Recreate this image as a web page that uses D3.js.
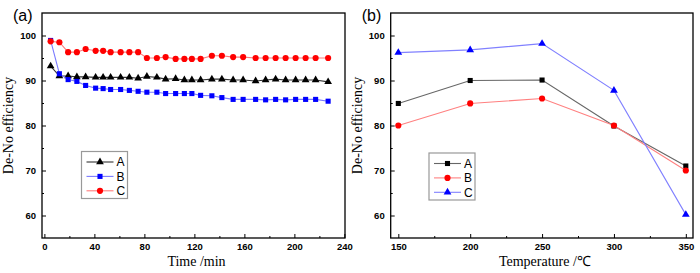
<!DOCTYPE html>
<html>
<head>
<meta charset="utf-8">
<script src="https://cdn.jsdelivr.net/npm/d3@7"></script>
<style>
  body { margin: 0; background: #fff; }
  svg { display: block; }
  .tick text { font-family: "Liberation Sans", Arial, sans-serif; font-weight: bold; font-size: 9.5px; fill: #000; }
  .axis path, .axis line { stroke: #000; }
  .title { font-family: "Liberation Serif", "Times New Roman", serif; font-size: 14px; fill: #000; }
  .panel-label { font-family: "Liberation Sans", Arial, sans-serif; font-size: 16px; fill: #000; }
  .legend text { font-family: "Liberation Sans", Arial, sans-serif; font-size: 12px; fill: #000; }
</style>
</head>
<body>
<div id="chart"></div>
<script>
// ---- data ----
const timeMin = [5, 12, 19, 26, 33, 41, 47, 53, 61, 68, 75, 82, 90, 97, 105, 112, 118, 125, 134, 142, 151, 159, 169, 177, 185, 193, 201, 209, 217, 227];
const timeA = [93.2, 91.0, 91.0, 90.8, 90.8, 90.7, 90.7, 90.7, 90.7, 90.7, 90.5, 90.9, 90.7, 90.3, 90.4, 90.1, 90.1, 90.1, 90.3, 90.3, 90.1, 90.1, 89.9, 90.1, 90.3, 90.1, 90.1, 90.1, 90.1, 89.7];
const timeB = [98.9, 91.5, 90.2, 89.8, 88.9, 88.3, 88.2, 88.0, 88.0, 87.8, 87.6, 87.4, 87.4, 87.1, 87.1, 87.1, 87.1, 86.7, 86.6, 86.2, 85.8, 85.8, 85.8, 85.7, 85.8, 85.7, 85.8, 85.8, 85.8, 85.4];
const timeC = [98.7, 98.5, 96.3, 96.3, 97.0, 96.6, 96.6, 96.3, 96.3, 96.3, 96.3, 95.0, 95.0, 95.2, 94.8, 94.8, 94.8, 94.8, 95.5, 95.5, 95.2, 95.2, 95.0, 95.0, 95.0, 95.0, 95.0, 95.0, 95.0, 95.0];

const temps = [150, 200, 250, 300, 350];
const tempA = [84.9, 90.0, 90.1, 79.9, 71.0];
const tempB = [80.0, 84.9, 86.0, 80.0, 70.0];
const tempC = [96.2, 96.8, 98.2, 87.8, 60.2];

const yTicks = [60, 70, 80, 90, 100];
const yMinor = [65, 75, 85, 95];
const timeTicks = [0, 40, 80, 120, 160, 200, 240];
const timeMinor = [20, 60, 100, 140, 180, 220];
const tempTicks = [150, 200, 250, 300, 350];
const tempMinor = [175, 225, 275, 325];

const svg = d3.select("#chart").append("svg").attr("width", 700).attr("height", 273);

const symbols = { triangle: d3.symbolTriangle, square: d3.symbolSquare, circle: d3.symbolCircle };
const symSize = { triangle: 26, square: 26, circle: 30 };

class LinePanel {
  constructor(_config, _series) {
    this.config = _config;
    this.series = _series;
    this.initVis();
  }

  initVis() {
    let vis = this;
    const c = vis.config;
    vis.width = c.right - c.left;
    vis.height = c.bottom - c.top;

    vis.xScale = d3.scaleLinear().domain(c.xDomain).range([0, vis.width]);
    vis.yScale = d3.scaleLinear().domain([55, 105]).range([vis.height, 0]);

    vis.g = svg.append("g").attr("transform", `translate(${c.left},${c.top})`);

    // frame
    vis.g.append("rect")
      .attr("width", vis.width).attr("height", vis.height)
      .attr("fill", "none").attr("stroke", "#000").attr("stroke-width", 1.3);

    // axes (ticks point inward)
    const xAxis = d3.axisBottom(vis.xScale).tickValues(c.xTicks).tickSizeInner(-4).tickSizeOuter(0).tickPadding(5);
    const xMinor = d3.axisBottom(vis.xScale).tickValues(c.xMinor).tickSizeInner(-2).tickSizeOuter(0).tickFormat("");
    const yAxis = d3.axisLeft(vis.yScale).tickValues(yTicks).tickSizeInner(-4).tickSizeOuter(0).tickPadding(6);
    const yMin = d3.axisLeft(vis.yScale).tickValues(yMinor).tickSizeInner(-2).tickSizeOuter(0).tickFormat("");

    vis.g.append("g").attr("class", "axis").attr("transform", `translate(0,${vis.height})`).call(xAxis);
    vis.g.append("g").attr("class", "axis").attr("transform", `translate(0,${vis.height})`).call(xMinor);
    vis.g.append("g").attr("class", "axis").call(yAxis);
    vis.g.append("g").attr("class", "axis").call(yMin);
    vis.g.selectAll(".axis .domain").remove();
    vis.g.selectAll(".axis line").attr("stroke-width", 1);

    // titles
    svg.append("text").attr("class", "title")
      .attr("transform", `translate(${c.left - 29},${c.top + vis.height / 2}) rotate(-90)`)
      .attr("text-anchor", "middle").text("De-No efficiency");
    svg.append("text").attr("class", "title")
      .attr("x", c.left + vis.width / 2 + 3).attr("y", c.bottom + 28)
      .attr("text-anchor", "middle").text(c.xTitle);
    svg.append("text").attr("class", "panel-label")
      .attr("x", c.left - 29).attr("y", 21).text(c.label);

    vis.renderVis();
    vis.renderLegend();
  }

  renderVis() {
    let vis = this;
    const line = d3.line().x(d => vis.xScale(d[0])).y(d => vis.yScale(d[1]));

    const s = vis.g.selectAll(".series").data(vis.series).join("g").attr("class", "series");
    s.append("path")
      .attr("d", d => line(d.values))
      .attr("fill", "none").attr("stroke", d => d.line).attr("stroke-width", 1.1);
    s.selectAll(".pt").data(d => d.values.map(v => ({ v, d })))
      .join("path").attr("class", "pt")
      .attr("transform", p => `translate(${vis.xScale(p.v[0])},${vis.yScale(p.v[1])})`)
      .attr("d", p => d3.symbol(symbols[p.d.shape], symSize[p.d.shape])())
      .attr("fill", p => p.d.color);
  }

  renderLegend() {
    let vis = this;
    const lg = vis.config.legend;
    const leg = svg.append("g").attr("class", "legend").attr("transform", `translate(${lg.x},${lg.y})`);
    leg.append("rect").attr("width", 46).attr("height", 47)
      .attr("fill", "#fff").attr("stroke", "#999").attr("stroke-width", 1.2);
    const rows = leg.selectAll(".row").data(vis.series).join("g")
      .attr("class", "row").attr("transform", (d, i) => `translate(0,${10.5 + i * 14.4})`);
    rows.append("line").attr("x1", 5).attr("x2", 32)
      .attr("stroke", d => d.line).attr("stroke-width", 1.1);
    rows.append("path").attr("transform", "translate(18.5,0)")
      .attr("d", d => d3.symbol(symbols[d.shape], symSize[d.shape])())
      .attr("fill", d => d.color);
    rows.append("text").attr("x", 35).attr("dy", "0.36em").text(d => d.name);
  }
}

new LinePanel({
  left: 42, right: 345, top: 13, bottom: 238,
  xDomain: [-1.9, 240.5], xTicks: timeTicks, xMinor: timeMinor,
  xTitle: "Time /min", label: "(a)", legend: { x: 81.5, y: 151.5 }
}, [
  { name: "A", shape: "triangle", color: "#000", line: "#333", values: d3.zip(timeMin, timeA) },
  { name: "B", shape: "square", color: "#0000ff", line: "#7b7bff", values: d3.zip(timeMin, timeB) },
  { name: "C", shape: "circle", color: "#ff0000", line: "#ff7b7b", values: d3.zip(timeMin, timeC) }
]);

new LinePanel({
  left: 390.7, right: 693, top: 13, bottom: 238,
  xDomain: [144.7, 355], xTicks: tempTicks, xMinor: tempMinor,
  xTitle: "Temperature /℃", label: "(b)", legend: { x: 429, y: 153 }
}, [
  { name: "A", shape: "square", color: "#000", line: "#666", values: d3.zip(temps, tempA) },
  { name: "B", shape: "circle", color: "#ff0000", line: "#ff8080", values: d3.zip(temps, tempB) },
  { name: "C", shape: "triangle", color: "#0000ff", line: "#8080ff", values: d3.zip(temps, tempC) }
]);
</script>
</body>
</html>
